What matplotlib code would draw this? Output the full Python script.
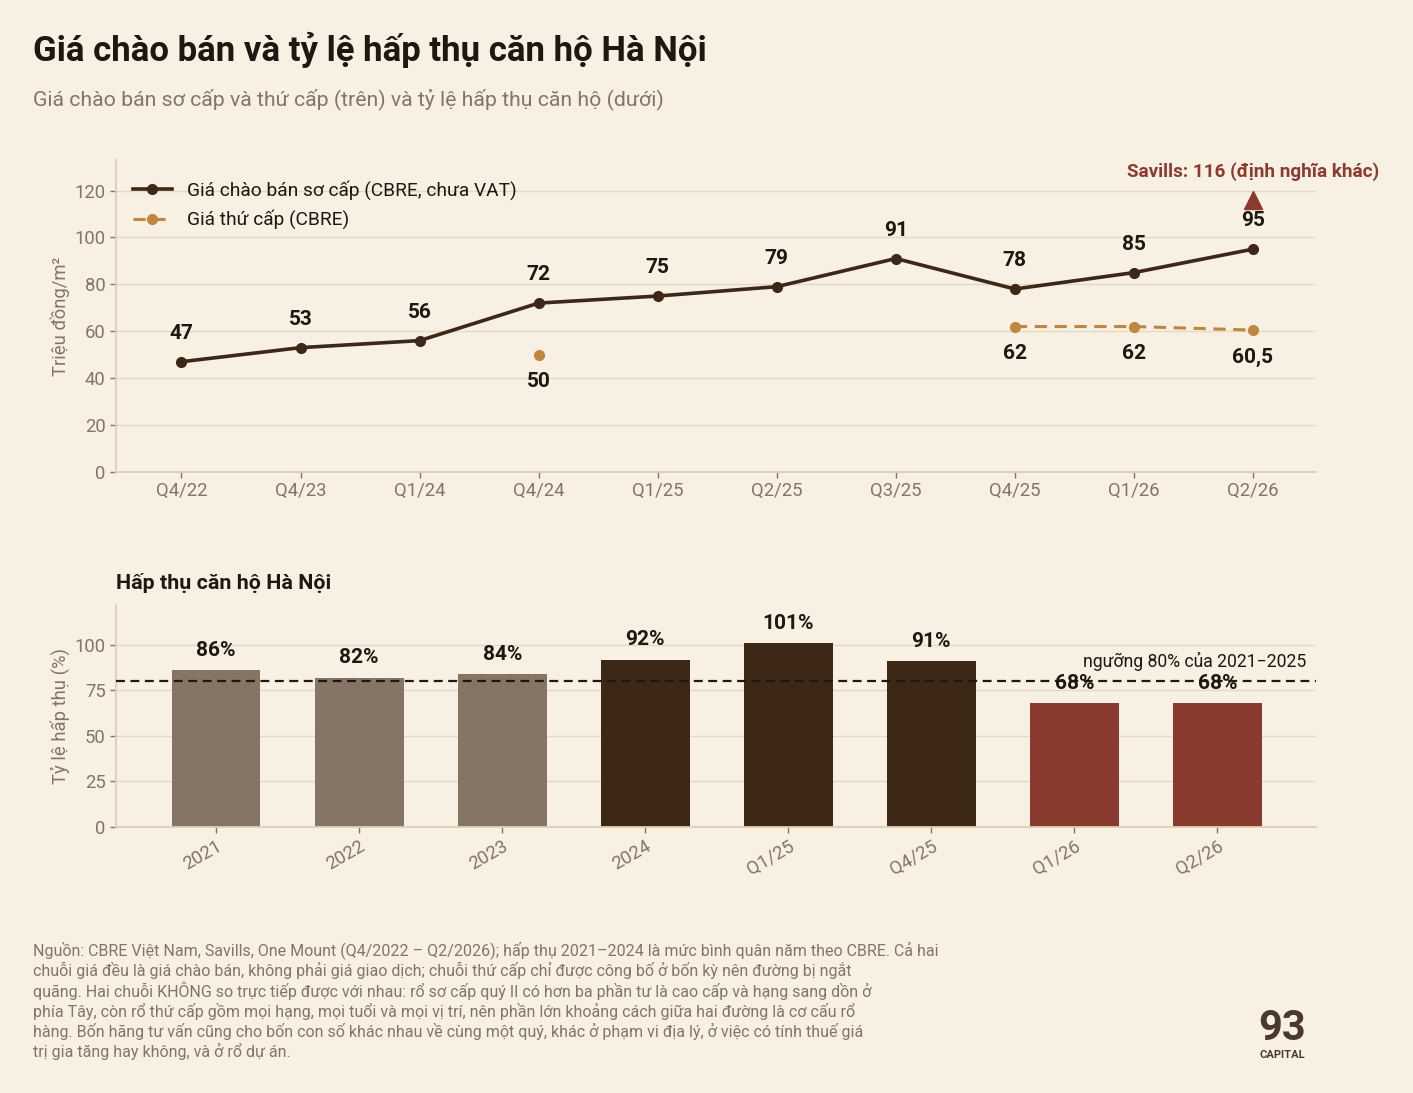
import matplotlib
matplotlib.use('Agg')
import matplotlib.pyplot as plt
import numpy as np

plt.rcParams['font.family'] = ['Roboto', 'DejaVu Sans']

# màu
BG     = '#f7f0e3'
DARK   = '#3d2817'
INK    = '#1f1710'
GOLD   = '#bf8640'
RED    = '#8b3a2f'
TAUPE  = '#857565'
GRID   = '#e4d9c2'
SPINE  = '#dccfb3'

# dữ liệu giá (triệu đồng/m2)
quarters = ['Q4/22', 'Q4/23', 'Q1/24', 'Q4/24', 'Q1/25', 'Q2/25', 'Q3/25', 'Q4/25', 'Q1/26', 'Q2/26']
primary = [47, 53, 56, 72, 75, 79, 91, 78, 85, 95]
secondary = [np.nan, np.nan, np.nan, 50, np.nan, np.nan, np.nan, 62, 62, 60.5]
savills_q2_26 = 116

# dữ liệu hấp thụ (%)
periods = ['2021', '2022', '2023', '2024', 'Q1/25', 'Q4/25', 'Q1/26', 'Q2/26']
absorption = [86, 82, 84, 92, 101, 91, 68, 68]
bar_colors = [TAUPE, TAUPE, TAUPE, DARK, DARK, DARK, RED, RED]
threshold = 80

fig = plt.figure(figsize=(14.13, 10.93), dpi=100)
fig.patch.set_facecolor(BG)


def style_axes(ax):
    ax.set_facecolor(BG)
    for s in ['top', 'right']:
        ax.spines[s].set_visible(False)
    for s in ['left', 'bottom']:
        ax.spines[s].set_color(SPINE)
        ax.spines[s].set_linewidth(1.3)
    ax.tick_params(colors=TAUPE, labelsize=13.3, length=4, width=1)
    ax.yaxis.grid(True, color=GRID, lw=1)
    ax.set_axisbelow(True)


# ---- biểu đồ trên: giá ----
ax1 = fig.add_axes([0.0821, 0.5682, 0.8493, 0.2854])
style_axes(ax1)
x = np.arange(len(quarters))
ax1.plot(x, primary, color=DARK, lw=2.6, marker='o', ms=7,
         label='Giá chào bán sơ cấp (CBRE, chưa VAT)', zorder=3)
ax1.plot(x, secondary, color=GOLD, lw=2.2, ls=(0, (4, 2.5)), marker='o', ms=7,
         label='Giá thứ cấp (CBRE)', zorder=3)
ax1.plot([x[-1]], [savills_q2_26], marker='^', color=RED, ms=13, ls='none', zorder=4)
ax1.text(x[-1], 128, f'Savills: {savills_q2_26} (định nghĩa khác)', ha='center', va='center',
         fontsize=13.6, fontweight='bold', color=RED, clip_on=False)

for xi, v in zip(x, primary):
    ax1.text(xi, v + 12, f'{v}', ha='center', va='center', fontsize=15,
             fontweight='bold', color=INK)
for xi, v in zip(x, secondary):
    if not np.isnan(v):
        lab = f'{v:g}'.replace('.', ',')
        ax1.text(xi, v - 11.5, lab, ha='center', va='center', fontsize=15,
                 fontweight='bold', color=INK)

ax1.set_xlim(-0.55, 9.53)
ax1.set_ylim(0, 133)
ax1.set_yticks(range(0, 121, 20))
ax1.set_xticks(x)
ax1.set_xticklabels(quarters)
ax1.set_ylabel('Triệu đồng/m²', color=TAUPE, fontsize=13.3, labelpad=3)
leg = ax1.legend(loc='upper left', bbox_to_anchor=(0.0, 0.99), frameon=False,
                 fontsize=13.8, handlelength=2.0, labelspacing=0.5)
for t in leg.get_texts():
    t.set_color(INK)

# ---- biểu đồ dưới: hấp thụ ----
ax2 = fig.add_axes([0.0821, 0.2434, 0.8493, 0.2031])
style_axes(ax2)
xb = np.arange(len(periods))
ax2.bar(xb, absorption, width=0.62, color=bar_colors, zorder=2)
for xi, v in zip(xb, absorption):
    ax2.text(xi, v + 11, f'{v}%', ha='center', va='center', fontsize=15,
             fontweight='bold', color=INK, zorder=5)
ax2.axhline(threshold, color=INK, lw=1.6, ls=(0, (4, 2.5)), zorder=4)
ax2.text(7.62, threshold + 5.5, 'ngưỡng 80% của 2021−2025', ha='right', va='bottom',
         fontsize=12.7, color=INK)
ax2.set_xlim(-0.7, 7.69)
ax2.set_ylim(0, 122)
ax2.set_yticks([0, 25, 50, 75, 100])
ax2.set_xticks(xb)
ax2.set_xticklabels(periods, rotation=30, ha='right', rotation_mode='anchor')
ax2.set_ylabel('Tỷ lệ hấp thụ (%)', color=TAUPE, fontsize=13.3, labelpad=3)
ax2.text(0.0, 1.1, 'Hấp thụ căn hộ Hà Nội', transform=ax2.transAxes,
         fontsize=15.4, fontweight='bold', color=INK, ha='left', va='center')

# ---- tiêu đề ----
fig.text(33 / 1413, 1 - 50 / 1093, 'Giá chào bán và tỷ lệ hấp thụ căn hộ Hà Nội',
         fontsize=25, fontweight='bold', color=INK, ha='left', va='center')
fig.text(33 / 1413, 1 - 99 / 1093,
         'Giá chào bán sơ cấp và thứ cấp (trên) và tỷ lệ hấp thụ căn hộ (dưới)',
         fontsize=15.3, color=TAUPE, ha='left', va='center')

# ---- ghi chú nguồn ----
note = ('Nguồn: CBRE Việt Nam, Savills, One Mount (Q4/2022 – Q2/2026); hấp thụ 2021–2024 là mức bình quân năm theo CBRE. Cả hai\n'
        'chuỗi giá đều là giá chào bán, không phải giá giao dịch; chuỗi thứ cấp chỉ được công bố ở bốn kỳ nên đường bị ngắt\n'
        'quãng. Hai chuỗi KHÔNG so trực tiếp được với nhau: rổ sơ cấp quý II có hơn ba phần tư là cao cấp và hạng sang dồn ở\n'
        'phía Tây, còn rổ thứ cấp gồm mọi hạng, mọi tuổi và mọi vị trí, nên phần lớn khoảng cách giữa hai đường là cơ cấu rổ\n'
        'hàng. Bốn hãng tư vấn cũng cho bốn con số khác nhau về cùng một quý, khác ở phạm vi địa lý, ở việc có tính thuế giá\n'
        'trị gia tăng hay không, và ở rổ dự án.')
fig.text(33 / 1413, 1 - 941 / 1093, note, fontsize=11.5, color=TAUPE, ha='left', va='top',
         linespacing=1.2)

# ---- logo ----
fig.text(1282 / 1413, 1 - 1028 / 1093, '93', fontsize=30, fontweight='bold',
         color='#4a3a2e', ha='center', va='center')
fig.text(1282 / 1413, 1 - 1055 / 1093, 'CAPITAL', fontsize=8, fontweight='bold',
         color='#4a3a2e', ha='center', va='center')

plt.savefig('out.png', dpi=100, facecolor=BG)
plt.close()
